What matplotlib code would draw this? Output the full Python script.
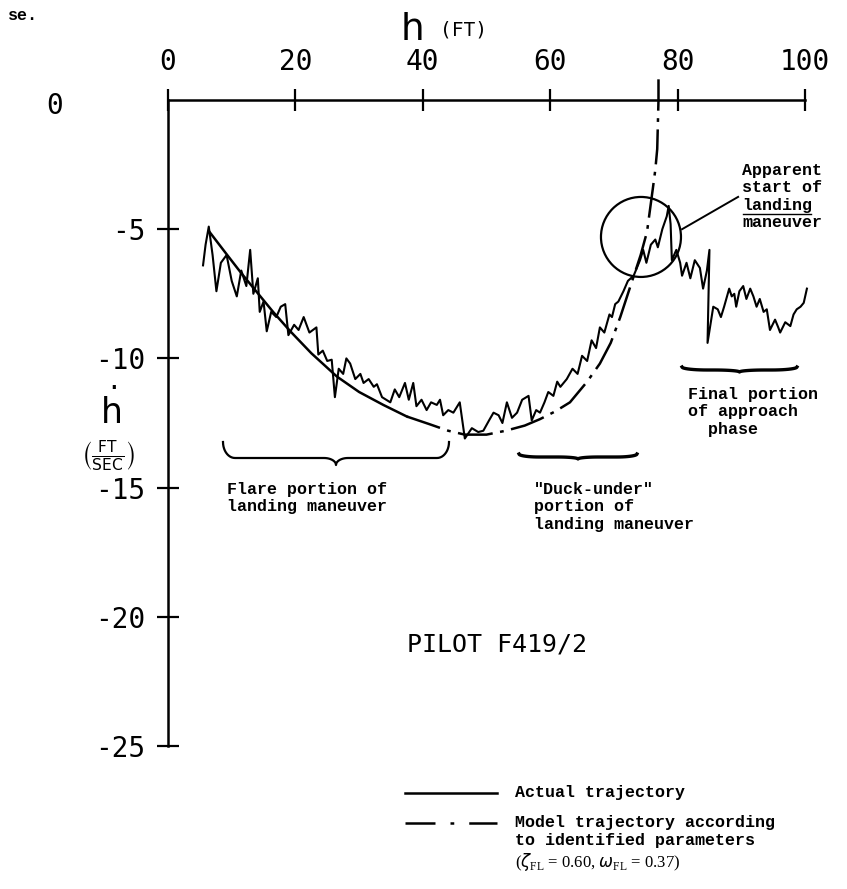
import numpy as np
import matplotlib.pyplot as plt
from matplotlib.patches import Ellipse
from matplotlib.lines import Line2D

# actual trajectory: h (FT) and h-dot (FT/SEC)
act_h = [5.5, 5.9, 6.4, 7.0, 7.6, 8.3, 9.2, 10.0, 10.8, 11.5, 12.3, 12.9, 13.4, 14.1,
         14.4, 15.0, 15.5, 16.2, 17.0, 17.7, 18.4, 18.9, 19.8, 20.5, 21.3, 22.2, 23.3,
         23.6, 24.3, 25.0, 25.7, 26.2, 26.8, 27.5, 28.0, 28.6, 29.4, 30.2, 30.7, 31.5,
         32.3, 32.8, 33.6, 34.9, 35.6, 36.3, 37.2, 37.8, 38.5, 39.0, 39.8, 40.6, 41.3,
         42.2, 42.7, 43.2, 44.0, 44.8, 45.8, 46.6, 47.7, 48.7, 49.5, 50.4, 51.1, 51.9,
         52.5, 53.2, 54.0, 54.8, 55.6, 56.6, 57.1, 57.8, 58.4, 59.1, 59.7, 60.5, 61.1,
         61.6, 62.6, 63.5, 64.3, 65.0, 65.8, 66.5, 67.2, 67.8, 68.5, 69.3, 69.7, 70.2,
         70.7, 71.5, 72.2, 73.1, 74.1, 74.6, 75.1, 75.8, 76.5, 76.9, 77.6, 78.3, 78.6,
         78.9, 79.1, 79.8, 80.4, 80.7, 81.4, 82.0, 82.7, 83.5, 84.0, 84.6, 85.0, 84.7,
         85.6, 86.3, 86.8, 87.3, 88.1, 88.5, 88.9, 89.2, 89.7, 90.3, 90.8, 91.4, 91.9,
         92.4, 92.9, 93.5, 94.0, 94.5, 95.3, 95.8, 96.1, 96.9, 97.7, 98.2, 98.7, 99.3,
         99.8, 100.3]
act_hd = [-6.4, -5.6, -4.9, -6.0, -7.4, -6.3, -6.0, -7.0, -7.6, -6.6, -7.2, -5.8, -7.5, -6.9,
          -8.2, -7.8, -8.95, -8.2, -8.4, -8.0, -7.9, -9.1, -8.7, -8.9, -8.4, -9.0, -8.8,
          -9.85, -9.7, -10.1, -10.05, -11.5, -10.4, -10.6, -10.0, -10.2, -10.8, -10.6, -10.95, -10.8,
          -11.1, -11.0, -11.5, -11.7, -11.2, -11.5, -10.95, -11.6, -10.95, -11.85, -11.6, -12.0, -11.7,
          -11.8, -11.6, -12.2, -12.0, -12.1, -11.7, -13.1, -12.7, -12.85, -12.8, -12.4, -12.1, -12.2,
          -12.5, -11.7, -12.3, -12.1, -11.6, -11.45, -12.4, -12.0, -12.1, -11.7, -11.3, -11.45, -10.9,
          -11.1, -10.8, -10.4, -10.6, -9.9, -10.1, -9.3, -9.6, -8.8, -9.0, -8.3, -8.4, -7.9,
          -7.8, -7.4, -7.0, -6.8, -6.2, -5.8, -6.3, -5.6, -5.4, -5.7, -5.0, -4.5, -4.1,
          -4.8, -6.2, -5.8, -6.3, -6.8, -6.3, -6.9, -6.2, -6.5, -7.3, -6.6, -5.8, -9.4,
          -8.0, -8.1, -8.4, -8.0, -7.3, -7.6, -7.5, -8.0, -7.4, -7.2, -7.7, -7.3, -7.6,
          -8.0, -7.7, -8.2, -8.1, -8.9, -8.5, -8.8, -9.0, -8.6, -8.75, -8.3, -8.1, -8.0,
          -7.85, -7.3]

# model trajectory (zeta_FL = 0.60, omega_FL = 0.37)
mod_h = [6.5, 9.3, 11.5, 14.0, 16.5, 19.2, 22.5, 26.5, 30.0, 33.8, 37.5, 41.1, 44.0,
         46.6, 50.0, 53.0, 56.0, 58.4, 60.8, 63.1, 65.8, 67.8, 69.5, 71.0, 73.0, 74.2,
         75.2, 76.1, 76.5, 76.8, 77.0, 77.0]
mod_hd = [-5.1, -6.0, -6.7, -7.45, -8.2, -8.95, -9.8, -10.7, -11.3, -11.8, -12.25, -12.55, -12.8,
          -12.95, -12.95, -12.8, -12.6, -12.35, -12.05, -11.7, -10.9, -10.2, -9.4, -8.4, -6.9, -6.0,
          -5.1, -3.45, -2.7, -1.9, 0.0, 0.8]

x_ticks = [0, 20, 40, 60, 80, 100]
y_ticks = [-5, -10, -15, -20, -25]

W, H = 847, 889
fig = plt.figure(figsize=(W / 100, H / 100), dpi=100)
ax = fig.add_axes([168 / W, 1 - 746 / H, 637 / W, 646 / H])
ax.set_xlim(0, 100)
ax.set_ylim(-25, 0)
plt.rcParams['mathtext.fontset'] = 'dejavusans'

def fx(px):
    return px / W

def fy(py):
    return 1 - py / H

mono = 'DejaVu Sans Mono'
tw = 'Liberation Mono'

# axes: x axis on top at h-dot = 0
for s in ['right', 'bottom']:
    ax.spines[s].set_visible(False)
for s in ['top', 'left']:
    ax.spines[s].set_linewidth(1.8)
ax.xaxis.tick_top()
ax.set_xticks(x_ticks)
ax.set_xticklabels([str(v) for v in x_ticks], family=mono, fontsize=20)
ax.set_yticks(y_ticks)
ax.set_yticklabels([str(v) for v in y_ticks], family=mono, fontsize=20)
ax.tick_params(axis='x', direction='inout', length=16, width=1.6, pad=9)
ax.tick_params(axis='y', direction='inout', length=16, width=1.6, pad=8)
fig.text(fx(55), fy(106), '0', family=mono, fontsize=20, ha='center', va='center')

# curves
mh = np.array(mod_h)
mhd = np.array(mod_hd)
solid = mh <= 37.5
ax.plot(mh[solid], mhd[solid], color='black', lw=1.8, clip_on=False)
ax.plot(mh[mh >= 37.5], mhd[mh >= 37.5], color='black', lw=1.8,
        linestyle=(0, (14, 3, 1.5, 3)), clip_on=False)
ax.plot(act_h, act_hd, color='black', lw=1.5, clip_on=False)

# circle marking the start of the landing manoeuvre
ax.add_patch(Ellipse((74.25, -5.3), 80 / 6.37, 80 / 25.84, fill=False,
                     edgecolor='black', lw=1.6, clip_on=False))
ax.plot([80.7, 89.5], [-5.0, -3.75], color='black', lw=1.4, clip_on=False)

# axis titles
fig.text(fx(412), fy(30), 'h', family='DejaVu Sans', fontsize=27, ha='center', va='center')
fig.text(fx(440), fy(30), '(FT)', family=mono, fontsize=14, ha='left', va='center')
fig.text(fx(110), fy(410), r'$\dot{\mathregular{h}}$', family='DejaVu Sans',
         fontsize=25, ha='center', va='center')
fig.text(fx(108), fy(456), r'$\left(\frac{\mathrm{FT}}{\mathrm{SEC}}\right)$',
         fontsize=16, ha='center', va='center')

fig.text(fx(8), fy(16), 'se.', family=tw, weight='bold', fontsize=12, va='center')

# annotations (typewriter)
kw = dict(family=tw, weight='bold', fontsize=12, va='top', linespacing=1.2)
fig.text(fx(742), fy(163), 'Apparent\nstart of\nlanding\nmaneuver', **kw)
fig.add_artist(Line2D([fx(743), fx(811)], [fy(214), fy(214)], color='black', lw=1.0))
fig.text(fx(688), fy(387), 'Final portion\nof approach\n  phase', **kw)
fig.text(fx(227), fy(482), 'Flare portion of\nlanding maneuver', **kw)
fig.text(fx(534), fy(482), '"Duck-under"\nportion of\nlanding maneuver', **kw)

def brace(x0, x1, y, d, tip, r=12, lw=1.6):
    t = np.linspace(0, np.pi / 2, 12)
    xm = (x0 + x1) / 2
    xs = np.concatenate([x0 + r * (1 - np.cos(t)), xm - r + r * np.sin(t),
                         xm + r * (1 - np.cos(t)), x1 - r + r * np.sin(t)])
    ys = np.concatenate([y - d + d * np.sin(t), y + tip * (1 - np.cos(t)),
                         y + tip * (1 - np.sin(t)), y - d * (1 - np.cos(t))])
    fig.add_artist(Line2D(fx(xs), fy(ys), color='black', lw=lw))

brace(223, 449, 458, 16, 7)
brace(519, 637, 457, 3, 2, r=20, lw=2.4)
brace(682, 797, 370, 3, 2, r=25, lw=2.4)

fig.text(fx(497), fy(645), 'PILOT F419/2', family=mono, fontsize=18,
         ha='center', va='center')

# legend
fig.add_artist(Line2D([fx(405), fx(497)], [fy(793), fy(793)], color='black', lw=1.8))
fig.add_artist(Line2D([fx(405), fx(497)], [fy(823), fy(823)], color='black', lw=1.8,
                      linestyle=(0, (12, 6, 1.5, 6))))
kw2 = dict(family=tw, weight='bold', fontsize=12, va='center')
fig.text(fx(515), fy(793), 'Actual trajectory', **kw2)
fig.text(fx(515), fy(823), 'Model trajectory according', **kw2)
fig.text(fx(515), fy(840), 'to identified parameters', **kw2)
fig.text(fx(515), fy(862), r'($\zeta_{\mathregular{FL}}$ = 0.60, $\omega_{\mathregular{FL}}$ = 0.37)',
         family='Liberation Serif', fontsize=12, va='center')

fig.savefig('out.png', dpi=100, facecolor='white')
